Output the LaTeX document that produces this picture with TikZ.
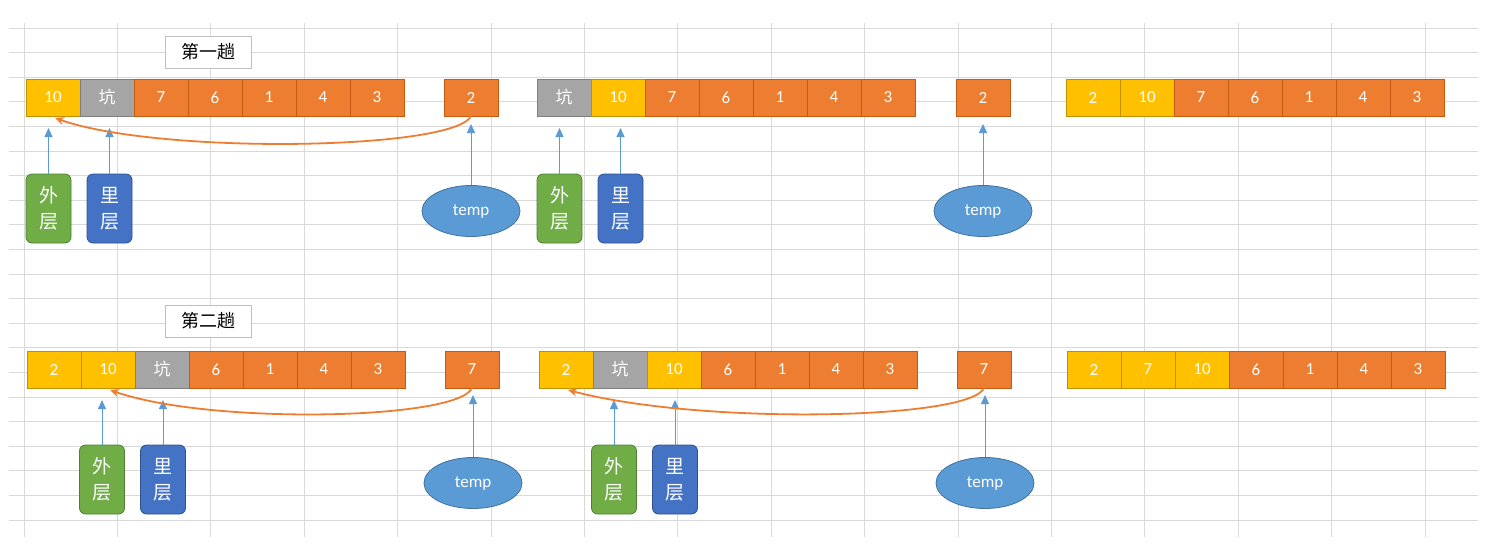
\documentclass[tikz,border=0pt]{standalone}
\usepackage{fontspec}
\setmainfont{Carlito}
\newfontfamily\cjk{Noto Sans CJK SC}
\usetikzlibrary{arrows.meta,positioning,shapes.geometric}
\definecolor{orF}{HTML}{ED7D31}
\definecolor{orD}{HTML}{C55A11}
\definecolor{yeF}{HTML}{FFC000}
\definecolor{yeD}{HTML}{BF9000}
\definecolor{grF}{HTML}{A5A5A5}
\definecolor{grD}{HTML}{7F7F7F}
\definecolor{gnF}{HTML}{70AD47}
\definecolor{gnD}{HTML}{507E32}
\definecolor{blF}{HTML}{4472C4}
\definecolor{blD}{HTML}{2F528F}
\definecolor{elF}{HTML}{5B9BD5}
\definecolor{elD}{HTML}{41719C}
\definecolor{gridC}{HTML}{D9D9D9}
\tikzset{
  cell/.style={draw, minimum width=54pt, minimum height=37pt, inner sep=0pt, outer sep=0pt,
    text=white, font=\fontsize{17}{17}\selectfont, line width=0.8pt},
  oc/.style={cell, fill=orF, draw=orD},
  yc/.style={cell, fill=yeF, draw=yeD},
  gc/.style={cell, fill=grF, draw=grD, font=\cjk\fontsize{17}{17}\selectfont},
  ptr/.style={draw, rounded corners=6pt, minimum width=45pt, minimum height=69pt, text=white,
    font=\cjk\fontsize{19}{26}\selectfont, align=center, inner sep=0pt, line width=0.8pt},
  outerbox/.style={ptr, fill=gnF, draw=gnD},
  innerbox/.style={ptr, fill=blF, draw=blD},
  tmp/.style={ellipse, draw=elD, fill=elF, minimum width=98pt, minimum height=51pt, text=white,
    inner sep=0pt, font=\fontsize{17}{17}\selectfont, line width=0.8pt},
  titlebox/.style={draw=gray!50, fill=white, minimum width=86pt, minimum height=32pt, inner sep=0pt,
    font=\cjk\fontsize{18}{18}\selectfont, line width=0.8pt},
  bar/.style={draw=elF, line width=1pt, -{Triangle[length=9pt,width=8pt]}},
  move/.style={draw=orF, line width=1.8pt, -{Stealth[length=9pt,width=8pt]}},
  gridline/.style={draw=gridC, line width=0.9pt}
}
\begin{document}
\begin{tikzpicture}[x=1pt,y=-1pt]
\fill[white] (0,0) rectangle (1507,558);
\useasboundingbox (0,0) rectangle (1507,558);
% grid
\foreach \k in {0,...,20} \draw[gridline] (9,28+24.6*\k) -- (1478,28+24.6*\k);
\foreach \k in {0,...,15} \draw[gridline] (24+93.4*\k,23) -- (24+93.4*\k,537);

% titles
\node[titlebox] (t1) at (208,52) {第一趟};
\node[titlebox] (t2) at (208,321) {第二趟};

% ===== row 1 =====
\node[yc, anchor=north west] (a1) at (26,79) {10};
\node[gc, right=0pt of a1] (a2) {坑};
\node[oc, right=0pt of a2] (a3) {7};
\node[oc, right=0pt of a3] (a4) {6};
\node[oc, right=0pt of a4] (a5) {1};
\node[oc, right=0pt of a5] (a6) {4};
\node[oc, right=0pt of a6] (a7) {3};
\node[oc, anchor=north west] (at) at (444,79) {2};

\node[gc, anchor=north west] (b1) at (537,79) {坑};
\node[yc, right=0pt of b1] (b2) {10};
\node[oc, right=0pt of b2] (b3) {7};
\node[oc, right=0pt of b3] (b4) {6};
\node[oc, right=0pt of b4] (b5) {1};
\node[oc, right=0pt of b5] (b6) {4};
\node[oc, right=0pt of b6] (b7) {3};
\node[oc, anchor=north west] (bt) at (956,79) {2};

\node[yc, anchor=north west] (c1) at (1066,79) {2};
\node[yc, right=0pt of c1] (c2) {10};
\node[oc, right=0pt of c2] (c3) {7};
\node[oc, right=0pt of c3] (c4) {6};
\node[oc, right=0pt of c4] (c5) {1};
\node[oc, right=0pt of c5] (c6) {4};
\node[oc, right=0pt of c6] (c7) {3};

% pointers row 1
\node[outerbox] (ao) at (48.5,208.5) {外\\层};
\node[innerbox] (ai) at (109.5,208.5) {里\\层};
\node[tmp] (ae) at (471,211) {temp};
\coordinate (aot) at (48.5,128);
\coordinate (ait) at (109.5,128);
\coordinate (aet) at (471,124);
\coordinate (aend) at (55,118);
\draw[bar] (ao.north) -- (aot);
\draw[bar] (ai.north) -- (ait);
\draw[bar] (ae.north) -- (aet);
\draw[move] (at.south) .. controls (455,150) and (160,155) .. (aend);

\node[outerbox] (bo) at (559.5,208.5) {外\\层};
\node[innerbox] (bi) at (620.5,208.5) {里\\层};
\node[tmp] (be) at (983,211) {temp};
\coordinate (bot) at (559.5,128);
\coordinate (bit) at (620.5,128);
\coordinate (bet) at (983,124);
\draw[bar] (bo.north) -- (bot);
\draw[bar] (bi.north) -- (bit);
\draw[bar] (be.north) -- (bet);

% ===== row 2 =====
\node[yc, anchor=north west] (d1) at (27,351) {2};
\node[yc, right=0pt of d1] (d2) {10};
\node[gc, right=0pt of d2] (d3) {坑};
\node[oc, right=0pt of d3] (d4) {6};
\node[oc, right=0pt of d4] (d5) {1};
\node[oc, right=0pt of d5] (d6) {4};
\node[oc, right=0pt of d6] (d7) {3};
\node[oc, anchor=north west] (dt) at (445,351) {7};

\node[yc, anchor=north west] (e1) at (539,351) {2};
\node[gc, right=0pt of e1] (e2) {坑};
\node[yc, right=0pt of e2] (e3) {10};
\node[oc, right=0pt of e3] (e4) {6};
\node[oc, right=0pt of e4] (e5) {1};
\node[oc, right=0pt of e5] (e6) {4};
\node[oc, right=0pt of e6] (e7) {3};
\node[oc, anchor=north west] (et) at (957,351) {7};

\node[yc, anchor=north west] (f1) at (1067,351) {2};
\node[yc, right=0pt of f1] (f2) {7};
\node[yc, right=0pt of f2] (f3) {10};
\node[oc, right=0pt of f3] (f4) {6};
\node[oc, right=0pt of f4] (f5) {1};
\node[oc, right=0pt of f5] (f6) {4};
\node[oc, right=0pt of f6] (f7) {3};

% pointers row 2
\node[outerbox] (do) at (102,479.5) {外\\层};
\node[innerbox] (di) at (163,479.5) {里\\层};
\node[tmp] (de) at (473,483) {temp};
\coordinate (dot) at (102,400);
\coordinate (dit) at (163,400);
\coordinate (det) at (473,395);
\coordinate (dend) at (110,390);
\draw[bar] (do.north) -- (dot);
\draw[bar] (di.north) -- (dit);
\draw[bar] (de.north) -- (det);
\draw[move] (dt.south) .. controls (458,420) and (210,425) .. (dend);

\node[outerbox] (eo) at (614,479.5) {外\\层};
\node[innerbox] (ei) at (675,479.5) {里\\层};
\node[tmp] (ee) at (985,483) {temp};
\coordinate (eot) at (614,400);
\coordinate (eit) at (675,400);
\coordinate (eet) at (985,395);
\coordinate (eend) at (568,390);
\draw[bar] (eo.north) -- (eot);
\draw[bar] (ei.north) -- (eit);
\draw[bar] (ee.north) -- (eet);
\draw[move] (et.south) .. controls (970,420) and (700,425) .. (eend);
\end{tikzpicture}
\end{document}
